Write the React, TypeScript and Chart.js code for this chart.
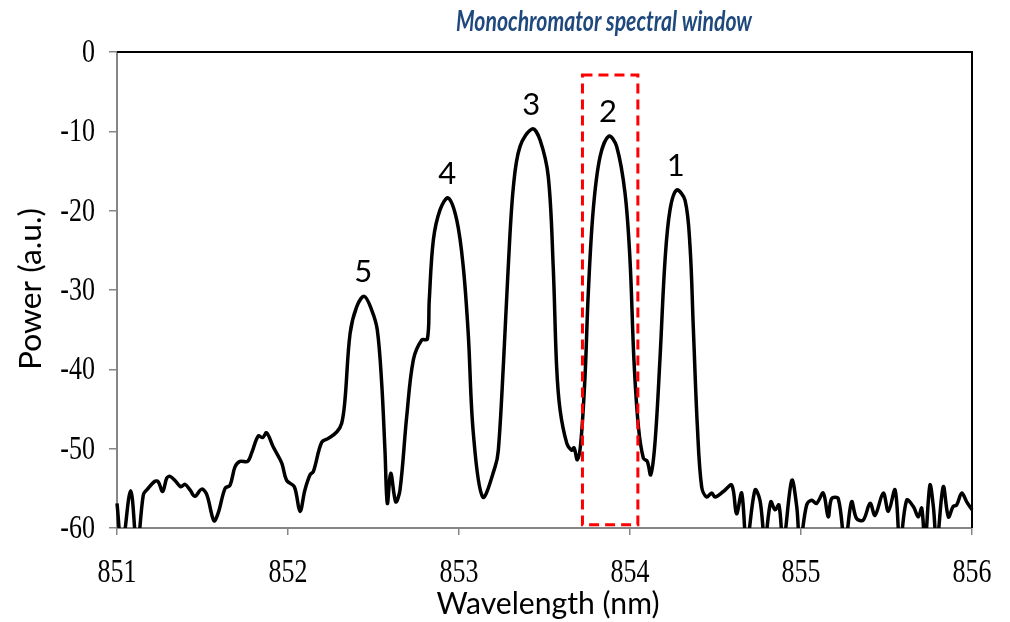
import { useEffect, useRef } from 'react';
import { Chart, registerables } from 'chart.js';

Chart.register(...registerables);

const titleText = 'Monochromator spectral window';
const xAxisTitle = 'Wavelength (nm)';
const yAxisTitle = 'Power (a.u.)';

const xTicks = [851, 852, 853, 854, 855, 856];
const yTicks = [0, -10, -20, -30, -40, -50, -60];

// Measured spectrum: wavelength (nm) and power (a.u.)
const wavelength = [
  851.000, 851.029, 851.080, 851.117, 851.154, 851.174, 851.222, 851.242, 851.267, 851.291,
  851.310, 851.339, 851.373, 851.398, 851.427, 851.456, 851.495, 851.525, 851.567, 851.592,
  851.632, 851.661, 851.690, 851.719, 851.764, 851.788, 851.826, 851.852, 851.875, 851.914,
  851.963, 851.992, 852.037, 852.070, 852.099, 852.129, 852.148, 852.197, 852.236, 852.285,
  852.314, 852.333, 852.363, 852.402, 852.446, 852.489, 852.522, 852.548, 852.567, 852.581,
  852.601, 852.630, 852.655, 852.694, 852.733, 852.782, 852.815, 852.826, 852.850, 852.889,
  852.937, 852.987, 853.025, 853.054, 853.084, 853.139, 853.211, 853.230, 853.259, 853.288,
  853.318, 853.357, 853.429, 853.474, 853.522, 853.551, 853.571, 853.591, 853.630, 853.659,
  853.673, 853.692, 853.712, 853.737, 853.756, 853.785, 853.825, 853.877, 853.922, 853.971,
  854.000, 854.023, 854.049, 854.078, 854.101, 854.121, 854.146, 854.175, 854.205, 854.234,
  854.273, 854.322, 854.351, 854.370, 854.394, 854.419, 854.448, 854.478, 854.497, 854.546,
  854.595, 854.623, 854.653, 854.682, 854.731, 854.760, 854.789, 854.823, 854.848, 854.871,
  854.896, 854.946, 854.975, 854.994, 855.033, 855.062, 855.091, 855.130, 855.159, 855.179,
  855.218, 855.257, 855.296, 855.325, 855.364, 855.404, 855.433, 855.481, 855.511, 855.550,
  855.579, 855.618, 855.657, 855.686, 855.706, 855.725, 855.754, 855.774, 855.794, 855.832,
  855.862, 855.890, 855.910, 855.940, 855.969, 856.000,
];

const power = [
  -56.9, -62.5, -55.3, -62.5, -55.8, -55.2, -54.1, -54.2, -55.4, -53.7,
  -53.5, -54.0, -54.8, -54.5, -55.2, -56.0, -55.1, -55.8, -59.1, -58.1,
  -55.0, -54.6, -52.3, -51.6, -51.6, -50.5, -48.4, -48.6, -48.0, -49.8,
  -51.8, -54.0, -54.8, -57.9, -55.2, -53.3, -52.9, -49.2, -48.7, -47.9,
  -46.8, -43.9, -35.5, -32.1, -30.8, -32.5, -35.0, -41.8, -50.2, -56.9,
  -53.1, -56.7, -55.2, -46.0, -38.8, -36.3, -36.2, -31.3, -23.7, -19.9,
  -18.4, -21.2, -27.1, -35.5, -48.1, -56.1, -52.3, -50.2, -39.7, -27.1,
  -17.0, -11.9, -9.7, -11.1, -15.7, -27.1, -39.7, -45.1, -49.3, -50.2,
  -49.9, -51.4, -49.3, -40.9, -30.4, -19.9, -13.2, -10.6, -11.9, -17.8,
  -26.2, -38.8, -47.2, -51.2, -51.6, -53.3, -49.3, -38.8, -26.2, -19.9,
  -17.4, -18.7, -24.5, -34.6, -47.2, -54.8, -56.1, -55.6, -56.1, -55.4,
  -54.6, -58.2, -55.6, -62.0, -55.2, -56.5, -61.5, -56.7, -57.7, -57.1,
  -62.0, -54.0, -57.3, -62.0, -57.1, -56.5, -56.9, -55.6, -58.6, -56.3,
  -56.3, -62.0, -56.7, -58.8, -59.0, -56.9, -58.4, -55.6, -57.9, -55.2,
  -62.0, -56.5, -57.3, -58.6, -57.5, -62.0, -54.6, -57.3, -62.0, -54.8,
  -58.6, -57.3, -57.1, -55.6, -56.7, -57.7,
];

// Numbered peaks, placed at the matching spectrum points
const peakNames = ['5', '4', '3', '2', '1'];
const peakWavelength = [852.446, 852.937, 853.429, 853.877, 854.273];

// Dashed spectral window of the monochromator
const windowWavelength = [853.722, 854.046];
const windowPower = [-2.9, -59.6];

const SERIF = '"Liberation Serif", "Times New Roman", serif';
const SANS = 'Lato, "Open Sans", sans-serif';

type TextOpts = {
  family: string;
  size: number;
  fitWidth?: number;
  style?: string;
  weight?: string;
  color?: string;
  align?: CanvasTextAlign;
  rotate?: number;
  stretch?: number;
};

function drawText(ctx: CanvasRenderingContext2D, text: string, x: number, y: number, o: TextOpts) {
  ctx.save();
  ctx.translate(x, y);
  if (o.rotate) ctx.rotate(o.rotate);
  const style = o.style || 'normal';
  const weight = o.weight || 'normal';
  ctx.font = `${style} ${weight} ${o.size}px ${o.family}`;
  let sx = 1;
  if (o.fitWidth) sx = o.fitWidth / ctx.measureText(text).width;
  ctx.scale(sx, o.stretch || 1);
  ctx.fillStyle = o.color || '#000';
  ctx.textAlign = o.align || 'center';
  ctx.textBaseline = 'alphabetic';
  ctx.fillText(text, 0, 0);
  ctx.restore();
}

const overlay = {
  id: 'overlay',
  afterDatasetsDraw(chart: any) {
    const { ctx, scales } = chart;
    const x0 = scales.x.getPixelForValue(windowWavelength[0]);
    const x1 = scales.x.getPixelForValue(windowWavelength[1]);
    const y0 = scales.y.getPixelForValue(windowPower[0]);
    const y1 = scales.y.getPixelForValue(windowPower[1]);
    ctx.save();
    ctx.strokeStyle = '#ff0000';
    ctx.lineWidth = 3;
    ctx.setLineDash([10, 6]);
    ctx.strokeRect(x0, y0, x1 - x0, y1 - y0);
    ctx.restore();
  },
  afterDraw(chart: any) {
    const { ctx, chartArea, scales } = chart;
    const { left, right, top, bottom } = chartArea;

    // top and right frame lines
    ctx.save();
    ctx.strokeStyle = '#000';
    ctx.lineWidth = 2;
    ctx.beginPath();
    ctx.moveTo(left, top);
    ctx.lineTo(right, top);
    ctx.lineTo(right, bottom);
    ctx.stroke();
    ctx.restore();

    // tick labels
    scales.x.ticks.forEach((t: any) => {
      const px = scales.x.getPixelForValue(t.value);
      drawText(ctx, String(t.value), px, bottom + 54, { family: SERIF, size: 26, stretch: 1.32 });
    });
    scales.y.ticks.forEach((t: any) => {
      const py = scales.y.getPixelForValue(t.value);
      drawText(ctx, String(t.value), left - 22, py + 10, { family: SERIF, size: 26, stretch: 1.32, align: 'right' });
    });

    // peak numbers
    peakWavelength.forEach((wl, i) => {
      const idx = wavelength.indexOf(wl);
      const px = scales.x.getPixelForValue(wl);
      const py = scales.y.getPixelForValue(power[idx]);
      drawText(ctx, peakNames[i], px - 1, py - 14, { family: SANS, size: 31 });
    });

    // titles
    drawText(ctx, titleText, 604, 31, {
      family: SANS, size: 29, fitWidth: 296, style: 'italic', weight: 'bold', color: '#1f497d',
    });
    drawText(ctx, xAxisTitle, 548, 614, { family: SANS, size: 31, fitWidth: 223 });
    drawText(ctx, yAxisTitle, 41, 289, { family: SANS, size: 31, fitWidth: 162, rotate: -Math.PI / 2 });
  },
};

export default function App() {
  const ref = useRef<HTMLCanvasElement>(null);

  useEffect(() => {
    const canvas = ref.current;
    if (!canvas) return;
    const axisGrey = '#868686';
    const chart = new Chart(canvas, {
      type: 'line',
      data: {
        datasets: [
          {
            data: wavelength.map((x, i) => ({ x, y: power[i] })),
            borderColor: '#000',
            borderWidth: 3.5,
            pointRadius: 0,
            fill: false,
            tension: 0.35,
            clip: { left: 3, top: 3, right: 3, bottom: 0 },
          } as any,
        ],
      },
      options: {
        responsive: false,
        animation: false,
        devicePixelRatio: 1,
        layout: { padding: { top: 52, right: 38, left: 0, bottom: 0 } },
        plugins: {
          legend: { display: false },
          tooltip: { enabled: false },
          title: { display: false },
        },
        scales: {
          x: {
            type: 'linear',
            min: 851,
            max: 856,
            afterBuildTicks: (s: any) => {
              s.ticks = xTicks.map((v) => ({ value: v }));
            },
            afterFit: (s: any) => {
              s.height = 94;
            },
            ticks: { display: false },
            grid: {
              drawOnChartArea: false,
              drawTicks: true,
              tickLength: 7,
              color: axisGrey,
              lineWidth: 1.5,
            },
            border: { color: axisGrey, width: 2 },
          },
          y: {
            type: 'linear',
            min: -60,
            max: 0,
            afterBuildTicks: (s: any) => {
              s.ticks = yTicks.map((v) => ({ value: v }));
            },
            afterFit: (s: any) => {
              s.width = 117;
            },
            ticks: { display: false },
            grid: {
              drawOnChartArea: false,
              drawTicks: true,
              tickLength: 8,
              color: axisGrey,
              lineWidth: 1.5,
            },
            border: { color: axisGrey, width: 2 },
          },
        },
      } as any,
      plugins: [overlay],
    });
    return () => chart.destroy();
  }, []);

  return (
    <div style={{ position: 'absolute', left: 0, top: 0, width: 1010, height: 622, background: '#fff' }}>
      <canvas ref={ref} width={1010} height={622} style={{ display: 'block' }} />
    </div>
  );
}
